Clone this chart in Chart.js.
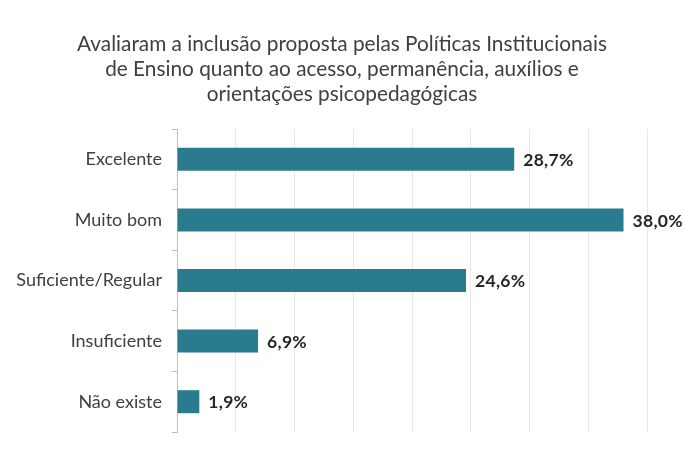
<!DOCTYPE html>
<html>
<head>
<meta charset="utf-8">
<script src="https://cdn.jsdelivr.net/npm/chart.js@4"></script>
<style>
  html, body { margin: 0; padding: 0; background: #fff; }
  #wrap { width: 685px; height: 468px; }
</style>
</head>
<body>
<div id="wrap"><canvas id="barCanvas" width="685" height="468"></canvas></div>
<script>
const titulo = [
    'Avaliaram a inclusão proposta pelas Políticas Institucionais',
    'de Ensino quanto ao acesso, permanência, auxílios e',
    'orientações psicopedagógicas'
];
const categorias = ['Excelente', 'Muito bom', 'Suficiente/Regular', 'Insuficiente', 'Não existe'];
const percentuais = [28.7, 38.0, 24.6, 6.9, 1.9];
const rotulos = ['28,7%', '38,0%', '24,6%', '6,9%', '1,9%'];

const FONTE = "Lato, 'Liberation Sans', sans-serif";

// título em três linhas, centrado na página (não só no gráfico)
const tituloPlugin = {
    id: 'tituloCentrado',
    afterDraw(chart) {
        const ctx = chart.ctx;
        ctx.save();
        ctx.font = "20.8px " + FONTE;
        ctx.fillStyle = '#404040';
        ctx.textAlign = 'center';
        ctx.textBaseline = 'middle';
        titulo.forEach((linha, i) => {
            ctx.fillText(linha, 342, 44 + i * 25);
        });
        ctx.restore();
    }
};

// rótulos de valor à direita de cada barra
const valorPlugin = {
    id: 'valores',
    afterDatasetsDraw(chart) {
        const ctx = chart.ctx;
        const meta = chart.getDatasetMeta(0);
        ctx.save();
        ctx.font = "bold 17.5px " + FONTE;
        ctx.letterSpacing = '0.3px';
        ctx.fillStyle = '#262626';
        ctx.textAlign = 'left';
        ctx.textBaseline = 'middle';
        meta.data.forEach((bar, i) => {
            ctx.fillText(rotulos[i], bar.x + 9, bar.y + 1);
        });
        ctx.restore();
    }
};

const ctx = document.getElementById('barCanvas').getContext('2d');
const barChart = new Chart(ctx, {
    type: 'bar',
    data: {
        labels: categorias,
        datasets: [{
            data: percentuais,
            backgroundColor: '#2b7b8e',
            categoryPercentage: 1,
            barPercentage: 0.38
        }]
    },
    options: {
        indexAxis: 'y',
        responsive: false,
        animation: false,
        layout: { padding: { left: 0, right: 38, top: 129, bottom: 0 } },
        plugins: {
            legend: { display: false },
            tooltip: { enabled: false },
            title: { display: false }
        },
        scales: {
            x: {
                min: 0,
                max: 40,
                ticks: { display: false, stepSize: 5 },
                grid: { color: '#e8e8e8', drawTicks: false },
                border: { display: false },
                afterFit(scale) { scale.height = 36; }
            },
            y: {
                ticks: {
                    color: '#404040',
                    font: { family: FONTE, size: 18 },
                    padding: 10
                },
                grid: { drawOnChartArea: false, tickLength: 5, color: '#bfbfbf' },
                border: { color: '#bfbfbf' },
                afterFit(scale) { scale.width = 177; }
            }
        }
    },
    plugins: [tituloPlugin, valorPlugin]
});
</script>
</body>
</html>
